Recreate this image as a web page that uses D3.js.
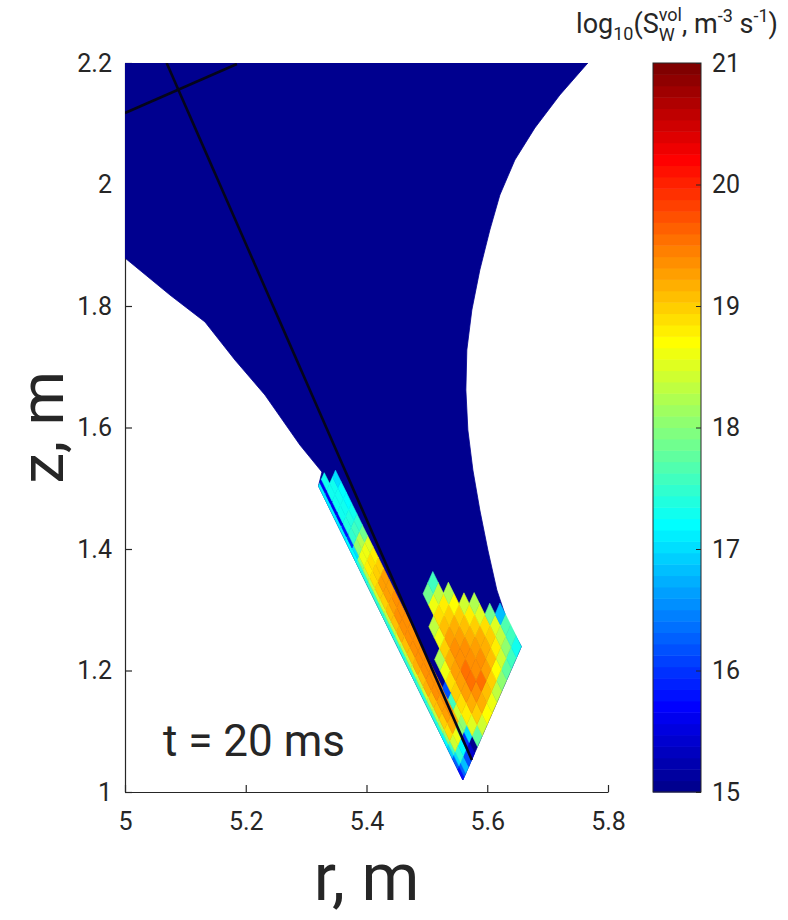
<!DOCTYPE html>
<html>
<head>
<meta charset="utf-8">
<script src="https://cdn.jsdelivr.net/npm/d3@7"></script>
<style>
  body { margin: 0; background: #fff; }
  text { font-family: Roboto, "Noto Sans", sans-serif; fill: #262626; }
</style>
</head>
<body>
<div id="chart"></div>
<script>
// ticks
var rTicks = [5, 5.2, 5.4, 5.6, 5.8];
var zTicks = [1, 1.2, 1.4, 1.6, 1.8, 2, 2.2];
var cTicks = [15, 16, 17, 18, 19, 20, 21];

// outline of the computational domain (r, z in m)
var domainR = [5.0, 5.7666, 5.7202, 5.6788, 5.6457, 5.6209, 5.6043, 5.5877, 5.5745, 5.5662, 5.5646, 5.5679, 5.5762, 5.5877, 5.6010, 5.6159, 5.6325, 5.6565, 5.5596, 5.3204, 5.3262, 5.2897, 5.2318, 5.1821, 5.1325, 5.0745, 5.0];
var domainZ = [2.2, 2.2, 2.1473, 2.0930, 2.0403, 1.9827, 1.9251, 1.8593, 1.7934, 1.7276, 1.6617, 1.5959, 1.5300, 1.4642, 1.3984, 1.3325, 1.2831, 1.2394, 1.0198, 1.5036, 1.5267, 1.5712, 1.6535, 1.7111, 1.7737, 1.8181, 1.8790];

// divertor mesh near the target: origin + a*dirA + b*dirB
var gridOrigin = [5.5596, 1.0198];
var gridDirA = [-0.443, 0.896];
var gridDirB = [0.4036, 0.9149];
var aEdges = [0, 0.02, 0.04, 0.06, 0.08, 0.10, 0.12, 0.14, 0.16, 0.18, 0.20, 0.22, 0.24, 0.26, 0.28,
              0.30, 0.32, 0.34, 0.36, 0.38, 0.40, 0.42, 0.44, 0.46, 0.48, 0.50, 0.52, 0.54];
var bEdges = [0, 0.006, 0.012, 0.024, 0.036, 0.048, 0.06, 0.08, 0.10, 0.12, 0.14, 0.16, 0.18, 0.20, 0.22, 0.24];

// log10 of W source per cell (rows along a, columns along b); 15 = floor of the colour scale
var sourceRows = [
  [15.8, 16.3, 16.8, 16.2, 15.4, 15.0, 17.8, 18.4, 18.7, 18.6, 18.3, 18.0, 17.8, 17.6, 17.3],
  [16.3, 17.0, 17.5, 17.2, 16.0, 17.0, 18.5, 19.0, 19.2, 19.1, 19.0, 18.7, 18.4, 18.0, 17.6],
  [16.9, 17.6, 18.4, 18.6, 18.0, 18.0, 18.8, 19.2, 19.4, 19.5, 19.3, 19.1, 18.8, 18.3, 17.7],
  [17.2, 18.0, 18.9, 19.2, 19.2, 18.4, 18.9, 19.3, 19.5, 19.4, 19.4, 19.2, 19.0, 18.5, 16.8],
  [17.4, 18.2, 19.0, 19.3, 19.4, 17.6, 19.0, 19.3, 19.5, 19.4, 19.3, 19.2, 18.9, 17.9, 15],
  [17.4, 18.3, 19.1, 19.3, 19.4, 16.2, 18.9, 19.3, 19.4, 19.4, 19.2, 19.0, 18.5, 15, 15],
  [17.5, 18.3, 19.1, 19.4, 19.4, 15, 18.6, 19.2, 19.4, 19.3, 19.1, 18.8, 18.2, 15, 15],
  [17.4, 18.4, 19.2, 19.4, 19.4, 15, 18.2, 19.0, 19.3, 19.2, 19.0, 18.4, 15, 15, 15],
  [17.5, 18.3, 19.1, 19.4, 19.4, 15, 15, 18.6, 19.1, 19.0, 18.7, 15, 15, 15, 15],
  [17.4, 18.4, 19.2, 19.4, 19.4, 15, 15, 18.3, 18.9, 18.8, 18.2, 15, 15, 15, 15],
  [17.5, 18.3, 19.1, 19.4, 19.4, 15, 15, 15, 18.6, 18.3, 15, 15, 15, 15, 15],
  [17.4, 18.3, 19.1, 19.4, 19.4, 15, 15, 15, 17.9, 17.6, 15, 15, 15, 15, 15],
  [17.5, 18.4, 19.2, 19.4, 19.4, 15],
  [17.4, 18.3, 19.1, 19.4, 19.4, 15],
  [17.5, 18.3, 19.1, 19.3, 19.4, 15],
  [17.5, 18.4, 19.0, 19.3, 19.3, 15],
  [17.5, 18.4, 19.0, 19.3, 19.3, 15],
  [17.5, 18.3, 18.9, 19.0, 19.0, 15],
  [17.4, 18.2, 18.8, 18.9, 18.8, 15],
  [17.4, 18.0, 18.6, 18.6, 18.5, 15],
  [17.2, 17.0, 18.0, 18.2, 17.9, 15],
  [17.2, 16.0, 17.5, 17.6, 17.5, 15],
  [17.1, 15.8, 17.4, 17.4, 17.3, 15],
  [17.1, 15.6, 17.3, 17.3, 17.2, 15],
  [17.1, 15.6, 17.3, 17.3, 17.2, 15],
  [17.1, 15.6, 17.3, 17.3, 17.0, 15],
  [17.1, 15.6, 17.3, 15, 15, 15]
];

// black lines (r, z)
var lineAR = [5.069, 5.5745];
var lineAZ = [2.2, 1.0527];
var lineBR = [5.0, 5.1854];
var lineBZ = [2.1177, 2.1984];

var cMin = 15, cMax = 21, nColors = 64;

var W = 788, H = 920;
var plot = {left: 125, right: 608, top: 63, bottom: 792};

var svg = d3.select("#chart").append("svg")
    .attr("width", W).attr("height", H);

var x = d3.scaleLinear().domain([5, 5.8]).range([plot.left, plot.right]);
var y = d3.scaleLinear().domain([1, 2.2]).range([plot.bottom, plot.top]);

// matlab jet(m)
function jet(m) {
    var n = Math.ceil(m / 4), u = [], k;
    for (k = 1; k <= n; k++) u.push(k / n);
    for (k = 1; k < n; k++) u.push(1);
    for (k = n; k >= 1; k--) u.push(k / n);
    var g0 = Math.ceil(n / 2) - (m % 4 === 1 ? 1 : 0);
    var J = d3.range(m).map(function(){ return [0, 0, 0]; });
    for (k = 0; k < u.length; k++) {
        var g = g0 + k + 1, r = g + n, b = g - n;
        if (g >= 1 && g <= m) J[g - 1][1] = u[k];
        if (r >= 1 && r <= m) J[r - 1][0] = u[k];
        if (b >= 1 && b <= m) J[b - 1][2] = u[k];
    }
    return J.map(function(c){
        return d3.rgb(c[0] * 255, c[1] * 255, c[2] * 255).formatHex();
    });
}
var palette = jet(nColors);
var color = d3.scaleQuantize().domain([cMin, cMax]).range(palette);

// axes (drawn under the data, like matlab)
var xAxis = d3.axisBottom(x).tickValues(rTicks).tickSizeInner(-7).tickSizeOuter(0)
    .tickPadding(20).tickFormat(d3.format("~g"));
var yAxis = d3.axisLeft(y).tickValues(zTicks).tickSizeInner(-7).tickSizeOuter(0)
    .tickPadding(13).tickFormat(d3.format("~g"));

var gx = svg.append("g").attr("transform", "translate(0," + plot.bottom + ")").call(xAxis);
var gy = svg.append("g").attr("transform", "translate(" + plot.left + ",0)").call(yAxis);
[gx, gy].forEach(function(g){
    g.selectAll("path, line").attr("stroke", "#262626").attr("stroke-width", 1.2);
    g.selectAll("text").style("font-size", "25px").attr("fill", "#262626");
});

svg.append("clipPath").attr("id", "plotclip").append("rect")
    .attr("x", plot.left).attr("y", plot.top)
    .attr("width", plot.right - plot.left).attr("height", plot.bottom - plot.top);

var data = svg.append("g").attr("clip-path", "url(#plotclip)");

// domain fill at the floor colour
var domainPts = domainR.map(function(r, i){ return [x(r), y(domainZ[i])]; });
data.append("path")
    .attr("d", "M" + domainPts.join("L") + "Z")
    .attr("fill", color(cMin)).attr("stroke", color(cMin)).attr("stroke-width", 0.8);

function gridPoint(a, b) {
    return [x(gridOrigin[0] + a * gridDirA[0] + b * gridDirB[0]),
            y(gridOrigin[1] + a * gridDirA[1] + b * gridDirB[1])];
}

var cells = [];
sourceRows.forEach(function(row, i){
    row.forEach(function(v, j){
        if (v <= cMin) return;
        cells.push({v: v, pts: [
            gridPoint(aEdges[i], bEdges[j]),
            gridPoint(aEdges[i + 1], bEdges[j]),
            gridPoint(aEdges[i + 1], bEdges[j + 1]),
            gridPoint(aEdges[i], bEdges[j + 1])
        ]});
    });
});

data.selectAll(".cell").data(cells).enter().append("path")
    .attr("class", "cell")
    .attr("d", function(d){ return "M" + d.pts.join("L") + "Z"; })
    .attr("fill", function(d){ return color(d.v); })
    .attr("stroke", function(d){ return color(d.v); })
    .attr("stroke-width", 0.6);

var line = d3.line().x(function(d){ return x(d[0]); }).y(function(d){ return y(d[1]); });
data.append("path").datum(d3.zip(lineAR, lineAZ)).attr("d", line)
    .attr("fill", "none").attr("stroke", "#05051a").attr("stroke-width", 2.6);
data.append("path").datum(d3.zip(lineBR, lineBZ)).attr("d", line)
    .attr("fill", "none").attr("stroke", "#05051a").attr("stroke-width", 2.6);

// time label
svg.append("text").attr("x", 163).attr("y", 756)
    .style("font-size", "44px").attr("fill", "#111").text("t = 20 ms");

// axis titles
svg.append("text").attr("x", (plot.left + plot.right) / 2).attr("y", 900)
    .attr("text-anchor", "middle").style("font-size", "66px").attr("fill", "#262626").text("r, m");
svg.append("text").attr("transform", "translate(63," + ((plot.top + plot.bottom) / 2) + ") rotate(-90)")
    .attr("text-anchor", "middle").style("font-size", "62px").attr("fill", "#262626").text("z, m");

// colorbar
var cb = {left: 653, right: 701, top: 63, bottom: 792};
var cy = d3.scaleLinear().domain([cMin, cMax]).range([cb.bottom, cb.top]);
var step = (cMax - cMin) / nColors;
svg.append("g").selectAll("rect").data(palette).enter().append("rect")
    .attr("x", cb.left).attr("width", cb.right - cb.left)
    .attr("y", function(d, i){ return cy(cMin + (i + 1) * step); })
    .attr("height", function(d, i){ return cy(cMin + i * step) - cy(cMin + (i + 1) * step) + 0.5; })
    .attr("fill", function(d){ return d; });
svg.append("rect").attr("x", cb.left).attr("y", cb.top)
    .attr("width", cb.right - cb.left).attr("height", cb.bottom - cb.top)
    .attr("fill", "none").attr("stroke", "#262626").attr("stroke-width", 1);

var cAxis = d3.axisRight(cy).tickValues(cTicks).tickSizeInner(-5).tickSizeOuter(0)
    .tickPadding(11).tickFormat(d3.format("d"));
var gc = svg.append("g").attr("transform", "translate(" + cb.right + ",0)").call(cAxis);
gc.select(".domain").remove();
gc.selectAll("line").attr("stroke", "#262626");
gc.selectAll("text").style("font-size", "25px").attr("fill", "#262626");

// colorbar title: log10(S_W^vol, m^-3 s^-1)
var title = svg.append("text").attr("x", (cb.left + cb.right) / 2).attr("y", 33)
    .attr("text-anchor", "middle").attr("fill", "#262626");
var big = 27, small = 18, off = 0;
function piece(str, size, shift, dx) {
    var t = title.append("tspan").text(str).style("font-size", size + "px")
        .attr("dy", shift - off);
    if (dx) t.attr("dx", dx);
    off = shift;
    return t;
}
piece("log", big, 0);
piece("10", small, 7);
piece("(S", big, 0);
var sup = piece("vol", small, -12);
var supLen = sup.node().getComputedTextLength();
var sub = piece("W", small, 8, -supLen);
var subLen = sub.node().getComputedTextLength();
piece(", m", big, 0, supLen - subLen);
piece("-3", small, -11);
piece(" s", big, 0);
piece("-1", small, -11);
piece(")", big, 0);
</script>
</body>
</html>
